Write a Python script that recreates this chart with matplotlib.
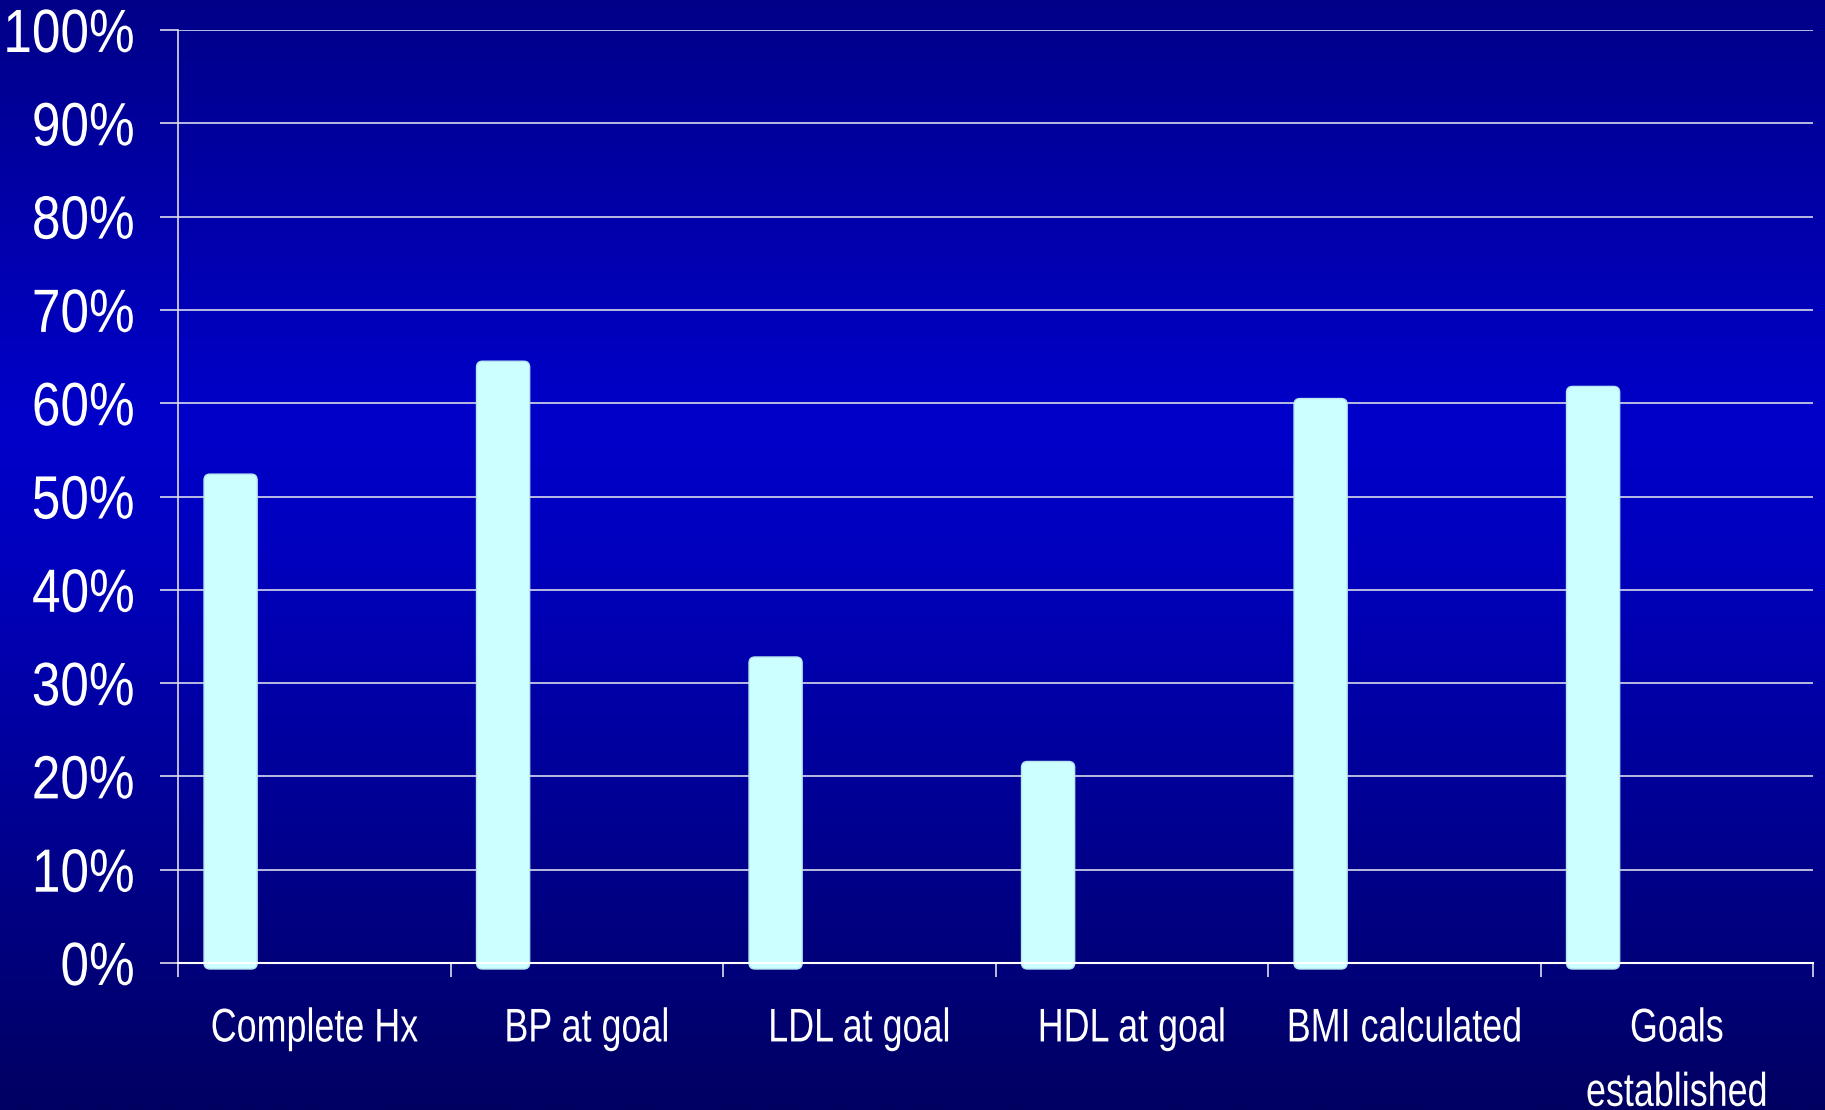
import numpy as np
import matplotlib
matplotlib.use("Agg")
import matplotlib.pyplot as plt
from matplotlib.patches import FancyBboxPatch
from matplotlib.colors import LinearSegmentedColormap
from matplotlib import patheffects
from matplotlib.transforms import Affine2D

categories = ["Complete Hx", "BP at goal", "LDL at goal", "HDL at goal",
              "BMI calculated", "Goals\nestablished"]
values = [0.524, 0.645, 0.328, 0.216, 0.605, 0.618]
yticks = [0.0, 0.1, 0.2, 0.3, 0.4, 0.5, 0.6, 0.7, 0.8, 0.9, 1.0]
ytick_labels = ["0%", "10%", "20%", "30%", "40%", "50%", "60%", "70%", "80%", "90%", "100%"]

FONT = ["Liberation Sans", "DejaVu Sans"]
plt.rcParams['font.family'] = FONT


class HSqueeze(patheffects.AbstractPathEffect):
    """Horizontally condense text glyphs (text stays a Text object)."""
    def __init__(self, sx, anchor="center"):
        super().__init__()
        self.sx = sx
        self.anchor = anchor

    def draw_path(self, renderer, gc, tpath, affine, rgbFace=None):
        ext = tpath.transformed(affine).get_extents()
        x0 = (ext.x0 + ext.x1) / 2 if self.anchor == "center" else ext.x1
        t = affine + Affine2D().translate(-x0, 0).scale(self.sx, 1).translate(x0, 0)
        renderer.draw_path(gc, tpath, t, rgbFace)


W, H, DPI = 1825, 1110, 100
fig = plt.figure(figsize=(W / DPI, H / DPI), dpi=DPI)

# background gradient
bg = fig.add_axes([0, 0, 1, 1], zorder=-10)
cmap = LinearSegmentedColormap.from_list(
    "bg", [(0.0, "#000088"), (0.38, "#0000CA"), (0.5, "#0000BE"), (1.0, "#000062")])
grad = np.linspace(0, 1, 512).reshape(-1, 1)
bg.imshow(grad, aspect="auto", cmap=cmap, extent=[0, 1, 0, 1], origin="upper")
bg.axis("off")

left, right, top, bottom = 178, 1813, 30, 963
ax = fig.add_axes([left / W, 1 - bottom / H, (right - left) / W, (bottom - top) / H])
ax.patch.set_alpha(0)
n = len(categories)
ax.set_xlim(0, n)
ax.set_ylim(0, 1)

x = np.arange(n)
bw = 0.195
bars = ax.bar(x + 0.193, values, width=bw, color="#CCFFFF", zorder=3)
# replace by rounded bars
px_x = (right - left) / n
px_y = (bottom - top)
aspect = (1 / px_y) / (1 / px_x)
r = 6 / px_x
for b in bars:
    bx, by = b.get_x(), b.get_y()
    w, h = b.get_width(), b.get_height()
    b.set_visible(False)
    off = 6 / px_y
    p = FancyBboxPatch((bx, by - off), w, h + off,
                       boxstyle=f"round,pad=0,rounding_size={r}",
                       mutation_aspect=aspect, facecolor="#CCFFFF",
                       edgecolor="#B8E6F0", linewidth=1.0, zorder=3, clip_on=False)
    ax.add_patch(p)

# y axis
ax.set_yticks(yticks)
ax.set_yticklabels(ytick_labels, fontsize=44, color="white", family=FONT)
ax.tick_params(axis="y", direction="out", length=13, width=1.2, color="#DDDDEE", pad=18)
for t in ax.get_yticklabels():
    t.set_path_effects([HSqueeze(0.84, anchor="right")])
ax.yaxis.grid(True, color="#C8C8E8", linewidth=1.3, zorder=1)
ax.set_axisbelow(True)

# x axis: ticks at boundaries, labels at centers
ax.set_xticks(np.arange(n + 1))
ax.set_xticklabels([])
ax.tick_params(axis="x", which="major", direction="out", length=10, width=1.2, color="#DDDDEE")
ax.set_xticks(x + 0.5, minor=True)
ax.set_xticklabels(categories, minor=True, fontsize=34, color="white",
                   family=FONT, linespacing=1.6, va="top")
ax.tick_params(axis="x", which="minor", length=0, pad=32)
for t in ax.get_xticklabels(minor=True):
    t.set_path_effects([HSqueeze(0.76, anchor="center")])

for s in ["top", "right"]:
    ax.spines[s].set_visible(False)
ax.spines["left"].set_color("#DDDDEE")
ax.spines["left"].set_linewidth(1.2)
ax.spines["bottom"].set_color("white")
ax.spines["bottom"].set_linewidth(1.5)
ax.spines["bottom"].set_zorder(4)

fig.savefig("out.png", dpi=DPI)
